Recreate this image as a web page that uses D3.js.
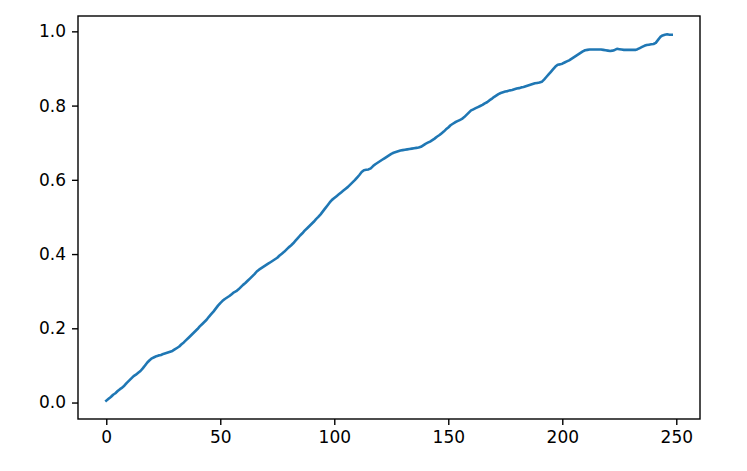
<!DOCTYPE html>
<html>
<head>
    <title>Line chart</title>
    <style>
        body { margin: 0; background: #fff; }
        svg { display: block; }
        .axis text { font-family: "DejaVu Sans", sans-serif; font-size: 17px; fill: #000; }
        .axis path, .axis line { stroke: #000; }
    </style>
</head>
<body>
    <svg id="chart" width="747" height="471"></svg>
    <script src="https://d3js.org/d3.v7.min.js"></script>
    <script>
        // Values, one per step 0..248
        const values = [
            0.005, 0.010, 0.015, 0.021, 0.025, 0.031, 0.036, 0.040, 0.046, 0.053,
            0.059, 0.065, 0.071, 0.075, 0.080, 0.085, 0.092, 0.100, 0.108, 0.114,
            0.119, 0.122, 0.125, 0.127, 0.128, 0.131, 0.133, 0.135, 0.137, 0.139,
            0.143, 0.147, 0.151, 0.157, 0.162, 0.168, 0.174, 0.180, 0.186, 0.192,
            0.198, 0.205, 0.211, 0.217, 0.223, 0.231, 0.238, 0.245, 0.253, 0.261,
            0.268, 0.274, 0.279, 0.283, 0.287, 0.292, 0.297, 0.300, 0.305, 0.311,
            0.317, 0.322, 0.328, 0.334, 0.340, 0.346, 0.353, 0.358, 0.362, 0.366,
            0.370, 0.374, 0.378, 0.382, 0.386, 0.390, 0.396, 0.401, 0.406, 0.412,
            0.418, 0.423, 0.429, 0.436, 0.443, 0.450, 0.456, 0.463, 0.469, 0.475,
            0.481, 0.487, 0.494, 0.500, 0.507, 0.515, 0.523, 0.531, 0.539, 0.546,
            0.551, 0.556, 0.561, 0.566, 0.571, 0.576, 0.581, 0.587, 0.593, 0.599,
            0.606, 0.613, 0.621, 0.626, 0.627, 0.628, 0.631, 0.637, 0.642, 0.646,
            0.650, 0.654, 0.658, 0.662, 0.666, 0.670, 0.673, 0.675, 0.677, 0.679,
            0.680, 0.681, 0.682, 0.683, 0.684, 0.685, 0.686, 0.687, 0.689, 0.693,
            0.697, 0.700, 0.703, 0.707, 0.711, 0.716, 0.720, 0.725, 0.730, 0.736,
            0.741, 0.747, 0.751, 0.755, 0.758, 0.761, 0.764, 0.769, 0.775, 0.781,
            0.787, 0.790, 0.793, 0.796, 0.799, 0.802, 0.806, 0.809, 0.814, 0.818,
            0.823, 0.827, 0.831, 0.834, 0.836, 0.838, 0.839, 0.841, 0.842, 0.844,
            0.846, 0.847, 0.849, 0.850, 0.852, 0.854, 0.856, 0.858, 0.860, 0.861,
            0.862, 0.864, 0.870, 0.877, 0.884, 0.891, 0.898, 0.905, 0.910, 0.911,
            0.913, 0.916, 0.919, 0.922, 0.926, 0.930, 0.934, 0.938, 0.942, 0.946,
            0.949, 0.950, 0.951, 0.951, 0.951, 0.951, 0.951, 0.951, 0.950, 0.949,
            0.948, 0.947, 0.948, 0.950, 0.953, 0.952, 0.951, 0.950, 0.950, 0.950,
            0.950, 0.950, 0.950, 0.952, 0.955, 0.958, 0.961, 0.963, 0.964, 0.965,
            0.966, 0.969, 0.977, 0.985, 0.989, 0.991, 0.992, 0.991, 0.991
        ];
        const steps = values.map((v, i) => i);

        // Tick labels
        const xTicks = [0, 50, 100, 150, 200, 250];
        const yTicks = [0.0, 0.2, 0.4, 0.6, 0.8, 1.0];

        // Plot area (matplotlib-like box)
        const margin = {left: 78, top: 16, right: 47, bottom: 52};
        const width = 747 - margin.left - margin.right;
        const height = 471 - margin.top - margin.bottom;

        const svg = d3.select("#chart");
        const g = svg.append("g")
            .attr("transform", `translate(${margin.left},${margin.top})`);

        // 5% padding on each side like matplotlib autoscale
        const xExt = d3.extent(steps), yExt = d3.extent(values);
        const xPad = (xExt[1] - xExt[0]) * 0.05, yPad = (yExt[1] - yExt[0]) * 0.05;

        const x = d3.scaleLinear()
            .domain([xExt[0] - xPad, xExt[1] + xPad])
            .range([0, width]);
        const y = d3.scaleLinear()
            .domain([yExt[0] - yPad, yExt[1] + yPad])
            .range([height, 0]);

        // Axes
        g.append("g")
            .attr("class", "axis")
            .attr("transform", `translate(0,${height})`)
            .call(d3.axisBottom(x).tickValues(xTicks).tickFormat(d3.format("d"))
                .tickSize(6).tickPadding(6).tickSizeOuter(0))
            .call(a => a.select(".domain").remove())
            .call(a => a.selectAll("line").attr("stroke-width", 1.4));

        g.append("g")
            .attr("class", "axis")
            .call(d3.axisLeft(y).tickValues(yTicks).tickFormat(d3.format(".1f"))
                .tickSize(6).tickPadding(6).tickSizeOuter(0))
            .call(a => a.select(".domain").remove())
            .call(a => a.selectAll("line").attr("stroke-width", 1.4));

        // Line
        const line = d3.line()
            .x((d, i) => x(steps[i]))
            .y(d => y(d));

        g.append("path")
            .datum(values)
            .attr("fill", "none")
            .attr("stroke", "#1f77b4")
            .attr("stroke-width", 2.6)
            .attr("stroke-linejoin", "round")
            .attr("stroke-linecap", "square")
            .attr("d", line);

        // Frame
        g.append("rect")
            .attr("width", width)
            .attr("height", height)
            .attr("fill", "none")
            .attr("stroke", "#000")
            .attr("stroke-width", 1.4);
    </script>
</body>
</html>
